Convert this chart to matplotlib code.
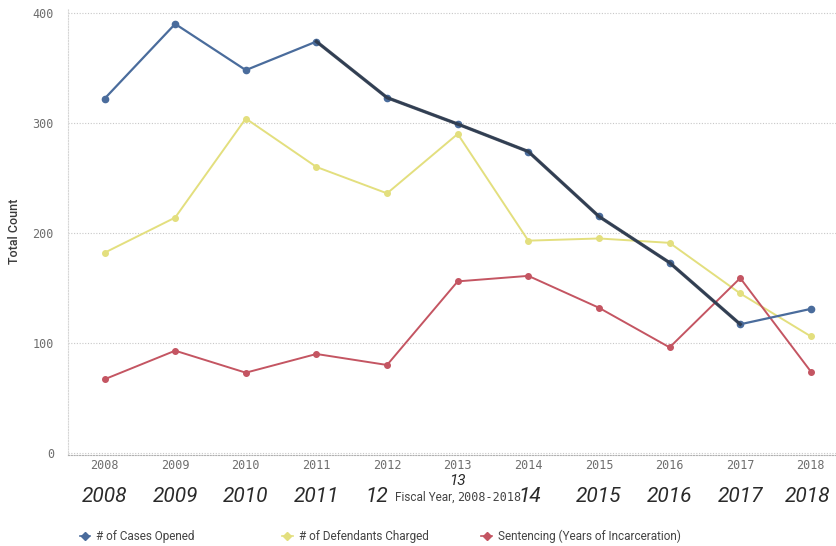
import numpy as np
import matplotlib
matplotlib.use('Agg')
from matplotlib import pyplot as plt
from matplotlib.lines import Line2D

# data
years = [2008, 2009, 2010, 2011, 2012, 2013, 2014, 2015, 2016, 2017, 2018]
cases_opened = [322, 390, 348, 374, 323, 299, 274, 215, 173, 117, 131]
defendants_charged = [182, 214, 304, 260, 236, 290, 193, 195, 191, 145, 106]
sentencing_years = [67, 93, 73, 90, 80, 156, 161, 132, 96, 159, 74]
yticks = [0, 100, 200, 300, 400]
ytick_labels = ['0', '100', '200', '300', '400']

# handwritten notes under the axis (small shifts where they dodge the axis title)
hand_labels = ['2008', '2009', '2010', '2011', '12', '13', '14', '2015', '2016', '2017', '2018']
hand_shift = [0, 0, 0, 0, -0.15, 0, 0.02, 0, 0, 0, -0.05]

blue = '#4a6c9c'
yellow = '#e3df7e'
red = '#c45562'
grid_c = '#c8c8c8'
tick_c = '#6e6e6e'
sans = ['Roboto', 'DejaVu Sans']

fig = plt.figure(figsize=(8.37, 5.46), dpi=100)
ax = fig.add_axes([0.081, 0.1667, 0.919, 0.8187])

ax.plot(years, defendants_charged, color=yellow, lw=1.4, marker='o', ms=4, zorder=3)
ax.plot(years, sentencing_years, color=red, lw=1.4, marker='o', ms=4, zorder=3)
ax.plot(years, cases_opened, color=blue, lw=1.6, marker='o', ms=4.5, zorder=4)
# pen trace over 2011-2017
ax.plot(years[3:10], cases_opened[3:10], color='#2c3646', lw=2.4, alpha=0.85, zorder=5)

ax.set_xlim(2007.48, 2018.37)
ax.set_ylim(-1.8, 404.5)
ax.set_yticks(yticks)
ax.set_yticklabels(ytick_labels)
ax.set_xticks(years)
ax.set_xticklabels([str(y) for y in years])
for lab in ax.get_xticklabels() + ax.get_yticklabels():
    lab.set_family('DejaVu Sans Mono')
    lab.set_fontsize(8.5)
    lab.set_color(tick_c)
ax.tick_params(length=0)
ax.tick_params(axis='x', pad=3)
ax.tick_params(axis='y', pad=10)

ax.grid(axis='y', color=grid_c, ls=(0, (1, 1.5)), lw=0.8)
for s in ['top', 'right']:
    ax.spines[s].set_visible(False)
ax.spines['left'].set_color('#d6d6d6')
ax.spines['left'].set_linestyle((0, (1, 1.5)))
ax.spines['bottom'].set_color('#b0b0b0')
ax.spines['bottom'].set_linestyle((0, (1, 1.5)))

ax.set_ylabel('Total Count', fontsize=9, color='#3a3a3a', labelpad=8, family=sans,
              fontweight='medium')

# handwritten year notes
tr = ax.get_xaxis_transform()
for yr, txt, sh in zip(years, hand_labels, hand_shift):
    dy = -0.092
    size = 15
    if txt == '13':
        dy = -0.058
        size = 11
    ax.text(yr + sh, dy, txt, transform=tr, ha='center', va='center', fontsize=size,
            family=sans, color='#2a2a2a', style='italic')

fig.text(0.543, 0.089, 'Fiscal Year,', ha='right', va='center', fontsize=8.5,
         family=sans, color='#444444')
fig.text(0.546, 0.089, '2008-2018', ha='left', va='center', fontsize=8.5,
         family='DejaVu Sans Mono', color='#444444')

# legend entries
entries = [(blue, '# of Cases Opened', 0.088),
           (yellow, '# of Defendants Charged', 0.33),
           (red, 'Sentencing (Years of Incarceration)', 0.568)]
for col, lab, xpos in entries:
    h = Line2D([], [], color=col, lw=1.2, marker='D', ms=4.5)
    fig.legend(handles=[h], labels=[lab], loc='center left', bbox_to_anchor=(xpos, 0.017),
               frameon=False, handlelength=0.9, handletextpad=0.5, borderpad=0,
               prop={'family': sans, 'size': 8.5}, labelcolor='#444444')

fig.savefig('out.png', dpi=100, facecolor='white')
